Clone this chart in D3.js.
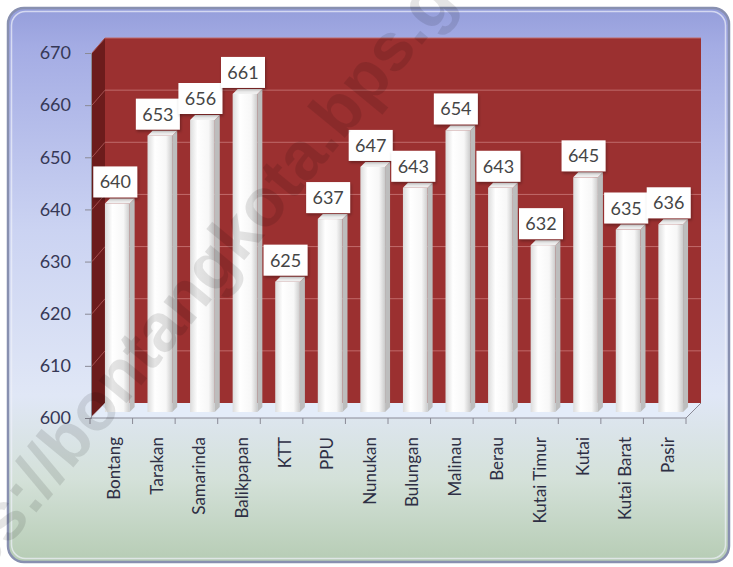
<!DOCTYPE html>
<html>
<head>
<meta charset="utf-8">
<script src="https://cdn.jsdelivr.net/npm/d3@7"></script>
<style>
  body { margin: 0; background: #fff; }
  svg text { font-family: Lato, "Open Sans", sans-serif; }
</style>
</head>
<body>
<svg id="chart" width="733" height="567"></svg>
<script>
// data
var regions = ["Bontang", "Tarakan", "Samarinda", "Balikpapan", "KTT", "PPU", "Nunukan",
               "Bulungan", "Malinau", "Berau", "Kutai Timur", "Kutai", "Kutai Barat", "Pasir"];
var values = [640, 653, 656, 661, 625, 637, 647, 643, 654, 643, 632, 645, 635, 636];
var yTicks = [600, 610, 620, 630, 640, 650, 660, 670];

var svg = d3.select("#chart");
var depth = 15;      // oblique depth of the plot box
var fo = 6, bd = 5;  // bar front offset and bar depth

var x = d3.scaleBand().domain(regions).range([90, 686]).paddingInner(0.42).paddingOuter(0.21);
var y = d3.scaleLinear().domain([600, 670]).range([418, 53]);

var defs = svg.append("defs");
var bg = defs.append("linearGradient").attr("id", "bg").attr("x1", 0).attr("y1", 0).attr("x2", 0).attr("y2", 1);
[[0, "#959edb"], [0.07, "#a4ace4"], [0.4, "#cbd3f2"], [0.7, "#e0e7f6"], [0.85, "#d4e1d9"], [1, "#b6ccb4"]]
  .forEach(function(s){ bg.append("stop").attr("offset", s[0]).attr("stop-color", s[1]); });
var barG = defs.append("linearGradient").attr("id", "barG").attr("x1", 0).attr("y1", 0).attr("x2", 1).attr("y2", 0);
[[0, "#dcdcdc"], [0.3, "#ffffff"], [0.75, "#f7f7f7"], [1, "#cbcbcb"]]
  .forEach(function(s){ barG.append("stop").attr("offset", s[0]).attr("stop-color", s[1]); });
var shadow = defs.append("filter").attr("id", "sh").attr("x", -0.2).attr("y", -0.2).attr("width", 1.4).attr("height", 1.5);
shadow.append("feDropShadow").attr("dx", 1).attr("dy", 2).attr("stdDeviation", 1.5).attr("flood-opacity", 0.3);

// outer frame
svg.append("rect").attr("x", 8).attr("y", 8).attr("width", 721).attr("height", 554)
  .attr("rx", 16).attr("fill", "url(#bg)").attr("stroke", "#8890b0").attr("stroke-width", 2.5);
svg.append("rect").attr("x", 11.5).attr("y", 11.5).attr("width", 714).attr("height", 547)
  .attr("rx", 14).attr("fill", "none").attr("stroke", "#eef1fa").attr("stroke-width", 1.5).attr("opacity", 0.7);

var x0 = 90, x1 = 686, yb = y(600), yt = y(670);

// back wall, side wall, floor
svg.append("rect").attr("x", x0 + depth).attr("y", yt - depth).attr("width", x1 - x0)
  .attr("height", yb - yt).attr("fill", "#9b3030");
svg.append("polygon").attr("fill", "#6c1c1c")
  .attr("points", [[x0 + 2, yt], [x0 + depth, yt - depth], [x0 + depth, yb - depth], [x0 + 2, yb]].join(" "));
svg.append("polygon").attr("fill", "#e4ecf9").attr("opacity", 0.9)
  .attr("points", [[x0, yb], [x0 + depth, yb - depth], [x1 + depth, yb - depth], [x1, yb]].join(" "));

// gridlines
var grid = svg.append("g");
yTicks.slice(1).forEach(function(t){
  grid.append("line").attr("x1", x0 + depth).attr("x2", x1 + depth)
    .attr("y1", y(t) - depth).attr("y2", y(t) - depth)
    .attr("stroke", "#c06a6a").attr("stroke-width", 1);
  grid.append("line").attr("x1", x0 + 2).attr("x2", x0 + depth)
    .attr("y1", y(t)).attr("y2", y(t) - depth)
    .attr("stroke", "#a45050").attr("stroke-width", 1);
});

// y axis
var yAxis = svg.append("g").attr("transform", "translate(" + (x0 + 1) + ",0)")
  .call(d3.axisLeft(y).tickValues(yTicks).tickSize(6).tickPadding(14));
yAxis.select(".domain").attr("stroke", "#8a8a96");
yAxis.selectAll(".tick line").attr("stroke", "#8a8a96");
yAxis.selectAll("text").attr("font-size", 18).attr("fill", "#363856");

// x axis line + ticks between categories
var xAx = svg.append("g");
xAx.append("path").attr("fill", "none").attr("stroke", "#8a8a96")
  .attr("d", "M" + x0 + "," + yb + "H" + x1 + "L" + (x1 + depth) + "," + (yb - depth));
d3.range(regions.length + 1).forEach(function(i){
  var xt = x0 + i * x.step();
  xAx.append("line").attr("x1", xt).attr("x2", xt).attr("y1", yb).attr("y2", yb + 6)
    .attr("stroke", "#8a8a96");
});
var xAxis = svg.append("g").attr("transform", "translate(0," + yb + ")")
  .call(d3.axisBottom(x).tickSize(0).tickPadding(0));
xAxis.select(".domain").remove();
xAxis.selectAll("text")
  .attr("font-size", 17).attr("fill", "#2e2f44")
  .attr("transform", "translate(3,19) rotate(-90)")
  .attr("text-anchor", "end").attr("dy", "0.35em").attr("y", 0);

// bars
var bars = svg.append("g").selectAll("g").data(values).enter().append("g");
bars.each(function(v, i){
  var g = d3.select(this);
  var bx = x(regions[i]) + fo, bw = x.bandwidth();
  var top = y(v) - fo, bot = yb - fo;
  g.append("polygon").attr("fill", "#bdbdbd")
    .attr("points", [[bx + bw, top], [bx + bw + bd, top - bd], [bx + bw + bd, bot - bd], [bx + bw, bot]].join(" "));
  g.append("rect").attr("x", bx).attr("y", top).attr("width", bw).attr("height", bot - top)
    .attr("fill", "url(#barG)");
  g.append("polygon").attr("fill", "#f0f0f0")
    .attr("points", [[bx, top], [bx + bd, top - bd], [bx + bw + bd, top - bd], [bx + bw, top]].join(" "));
});

// value labels
var labels = svg.append("g").selectAll("g").data(values).enter().append("g")
  .attr("transform", function(v, i){
    return "translate(" + (x(regions[i]) + x.bandwidth() / 2 + 4) + "," + (y(v) - 12) + ")";
  });
labels.append("rect").attr("x", -22).attr("y", -31).attr("width", 44).attr("height", 31)
  .attr("fill", "#ffffff").attr("filter", "url(#sh)");
labels.append("text").attr("text-anchor", "middle").attr("y", -9)
  .attr("font-size", 18).attr("fill", "#454545").text(function(v){ return v; });

// watermark
svg.append("text").attr("transform", "translate(212,262) rotate(-50.5)")
  .attr("text-anchor", "middle").attr("dy", "0.35em")
  .attr("font-size", 68).attr("font-weight", "bold").attr("fill", "#000").attr("opacity", 0.1)
  .style("font-family", "'Liberation Sans', Arial, sans-serif")
  .text("https://bontangkota.bps.go.id");
</script>
</body>
</html>
